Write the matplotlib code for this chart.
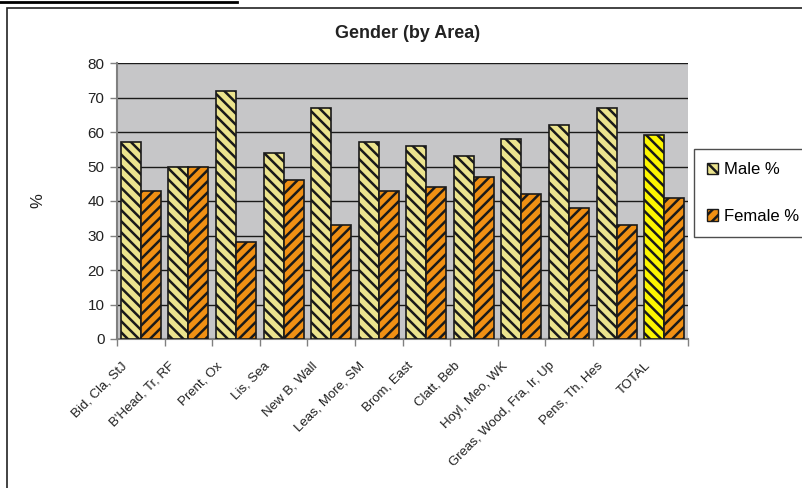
import matplotlib
matplotlib.use("Agg")
import matplotlib.pyplot as plt
import numpy as np
from matplotlib.patches import Rectangle, Patch
from matplotlib.lines import Line2D
from matplotlib.transforms import ScaledTranslation

plt.rcParams['font.family'] = ['Liberation Sans', 'DejaVu Sans']
plt.rcParams['hatch.linewidth'] = 1.8

areas = ["Bid, Cla, StJ", "B'Head, Tr, RF", "Prent, Ox", "Lis, Sea", "New B, Wall",
         "Leas, More, SM", "Brom, East", "Clatt, Beb", "Hoyl, Meo, WK",
         "Greas, Wood, Fra, Ir, Up", "Pens, Th, Hes", "TOTAL"]
male_pct = [57, 50, 72, 54, 67, 57, 56, 53, 58, 62, 67, 59]
female_pct = [43, 50, 28, 46, 33, 43, 44, 47, 42, 38, 33, 41]

male_color = "#ece48e"
total_male_color = "#fcf600"
female_color = "#f09014"
male_hatch = "\\" * 3
female_hatch = "/" * 3

fig = plt.figure(figsize=(8.02, 4.88), dpi=100)
ax = fig.add_axes([117 / 802, 1 - 339 / 488, 571 / 802, 276 / 488])
ax.set_facecolor("#c6c6c8")

x = np.arange(len(areas))
w = 0.42
male_colors = [male_color] * (len(areas) - 1) + [total_male_color]
ax.bar(x - w / 2, male_pct, w, color=male_colors, edgecolor="#1a1a1a",
       hatch=male_hatch, linewidth=1.2, zorder=3)
ax.bar(x + w / 2, female_pct, w, color=female_color, edgecolor="#1a1a1a",
       hatch=female_hatch, linewidth=1.2, zorder=3)

ax.set_xlim(-0.5, len(areas) - 0.5)
ax.set_ylim(0, 80)
ax.set_yticks(range(0, 81, 10))
ax.yaxis.grid(True, color="#1a1a1a", linewidth=1.0, zorder=1)
ax.set_axisbelow(True)

ax.set_xticks(np.arange(len(areas) + 1) - 0.5, minor=False)
ax.set_xticklabels([])
ax.set_xticks(x, minor=True)
ax.set_xticklabels(areas, minor=True, rotation=45, ha="right",
                   rotation_mode="anchor", fontsize=9.5, color="#222222")
ax.tick_params(axis="x", which="minor", length=0, pad=15)
ax.tick_params(axis="x", which="major", length=5, color="#808080", width=1)
ax.tick_params(axis="y", length=5, color="#808080", width=1,
               labelsize=11, labelcolor="#222222", pad=4)
shift = ScaledTranslation(-20 / 100, 0, fig.dpi_scale_trans)
for lab in ax.get_xticklabels(minor=True):
    lab.set_transform(lab.get_transform() + shift)

for side in ("top", "right"):
    ax.spines[side].set_visible(False)
ax.spines["left"].set_color("#808080")
ax.spines["left"].set_linewidth(1.5)
ax.spines["bottom"].set_color("#808080")
ax.spines["bottom"].set_linewidth(1.5)

ax.set_ylabel("%", fontsize=12, color="#222222", labelpad=30)
fig.text(408 / 802, 1 - 34 / 488, "Gender (by Area)", ha="center", va="center",
         fontsize=13, fontweight="bold", color="#222222")

handles = [Patch(facecolor=male_color, edgecolor="#1a1a1a", hatch=male_hatch),
           Patch(facecolor=female_color, edgecolor="#1a1a1a", hatch=female_hatch)]
leg = fig.legend(handles, ["Male %", "Female %"], loc="upper left",
                 bbox_to_anchor=(694 / 802, 1 - 149 / 488), fontsize=12,
                 frameon=True, fancybox=False, handlelength=0.65, handleheight=0.7,
                 handletextpad=0.35, labelspacing=1.9, borderpad=0.8,
                 borderaxespad=0)
leg.get_frame().set_edgecolor("#222222")
leg.get_frame().set_linewidth(1.0)

# chart frame and heading rule
fig.patches.append(Rectangle((7 / 802, -0.1), 1.0, 1 - 8 / 488 + 0.1,
                             transform=fig.transFigure, fill=False,
                             edgecolor="#222222", linewidth=1.2))
fig.lines.append(Line2D([0, 237 / 802], [1 - 2 / 488, 1 - 2 / 488],
                        transform=fig.transFigure, color="black", linewidth=2))

fig.savefig("out.png", dpi=100)
